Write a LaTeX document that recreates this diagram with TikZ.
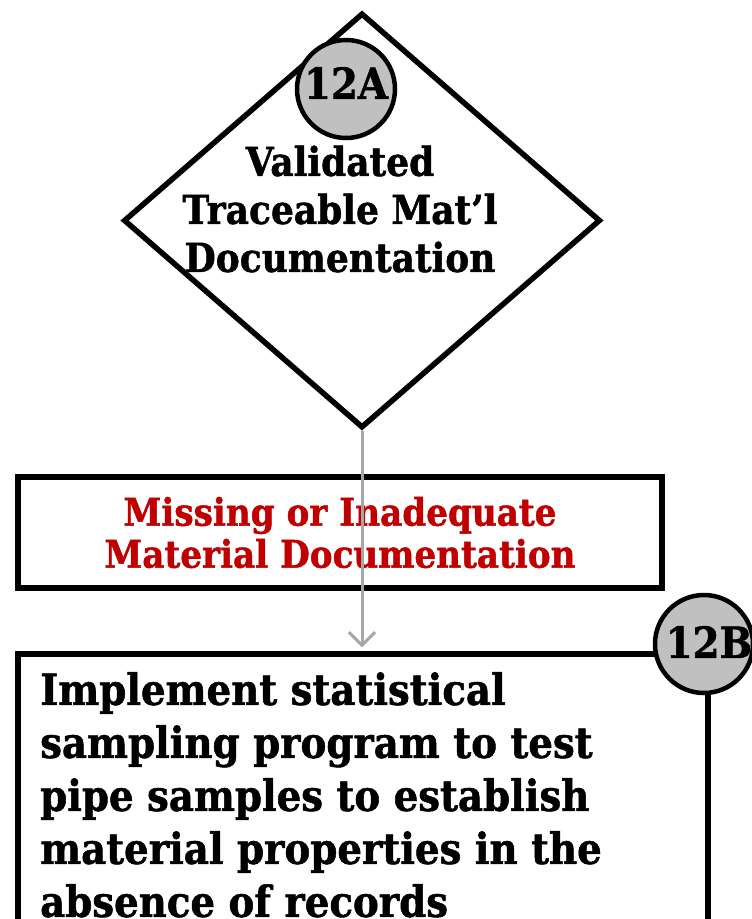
\documentclass[tikz,border=0pt]{standalone}
\usepackage{fontspec}
\newfontfamily\chartfont[FakeStretch=0.9,FakeBold=1.2]{DejaVu Serif}
\usetikzlibrary{shapes.geometric,arrows.meta}
\definecolor{tagGray}{HTML}{C0C0C0}
\definecolor{flowGray}{HTML}{A6A6A6}
\definecolor{gapRed}{HTML}{C00000}

\begin{document}
\begin{tikzpicture}[x=1pt,y=-1pt,
  decision/.style={diamond,draw,line width=5.5pt,minimum width=477pt,minimum height=415pt,inner sep=0pt},
  gapbox/.style={rectangle,draw,line width=5.5pt,minimum width=644pt,minimum height=111pt,inner sep=0pt,align=center,text=gapRed,font=\chartfont\bfseries\fontsize{38}{42}\selectfont},
  actbox/.style={rectangle,draw,line width=5.5pt,minimum width=690pt,minimum height=400pt,inner sep=0pt},
  tag/.style={circle,draw,line width=4.5pt,fill=tagGray,minimum size=98pt,inner sep=0pt},
  tagtext/.style={inner sep=0pt,font=\chartfont\bfseries\fontsize{43}{43}\selectfont},
  flow/.style={draw=flowGray,line width=3pt,-{Straight Barb[length=13pt,width=26pt]},shorten >=4pt}]
\useasboundingbox (0,0) rectangle (752,919);
\clip (0,0) rectangle (752,919);
\fill[white] (0,0) rectangle (752,919);
\node[decision] at (362,220.5) (dia) {};
\node[align=center,inner sep=0pt,font=\chartfont\bfseries\fontsize{40}{48}\selectfont] at (340,209) (diatext) {Validated\\Traceable Mat’l\\Documentation};
\node[tag] at (346,89) (t12a) {};
\node[tagtext] at (346,83) (t12atext) {12A};
\node[gapbox] at (340,532.5) (gap) {Missing or Inadequate\\Material Documentation};
\node[actbox] at (363,854) (act) {};
\node[anchor=north west,align=left,inner sep=0pt,font=\chartfont\bfseries\fontsize{43}{53}\selectfont] at (40,672) (acttext) {Implement statistical\\sampling program to test\\pipe samples to establish\\material properties in the\\absence of records};
\node[tag] at (704,644) (t12b) {};
\node[tagtext] at (709,642) (t12btext) {12B};
\draw[flow] (dia.south) -- (dia.south |- act.north);
\end{tikzpicture}
\end{document}
